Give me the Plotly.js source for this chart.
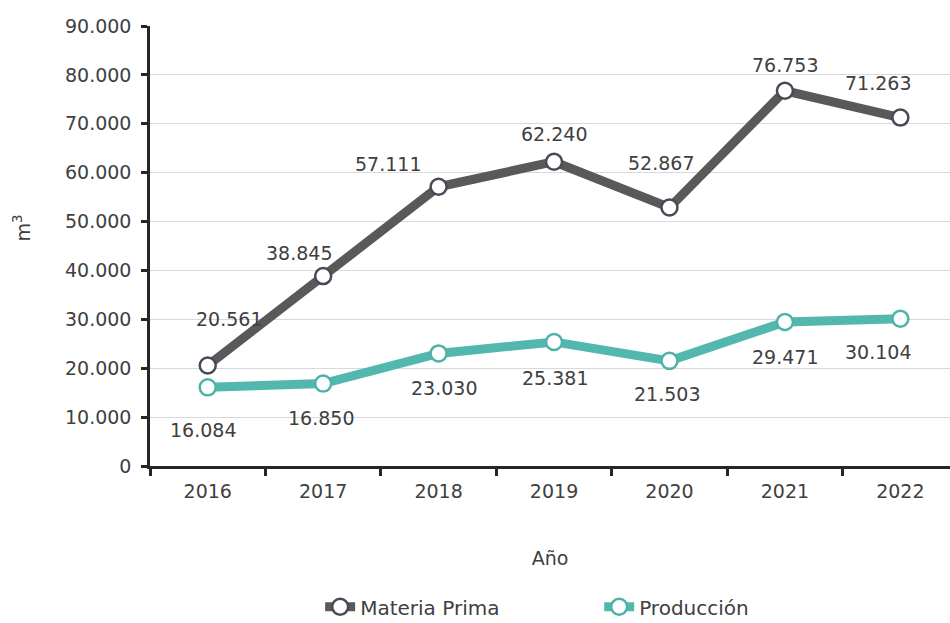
<!DOCTYPE html>
<html><head><meta charset="utf-8">
<script src="https://cdn.plot.ly/plotly-3.0.1.min.js"></script>
<style>body{margin:0}#c{width:950px;height:623px}</style>
</head><body><div id="c"></div>
<script>
const years = ['2016','2017','2018','2019','2020','2021','2022'];
const materiaPrima = [20561, 38845, 57111, 62240, 52867, 76753, 71263];
const produccion = [16084, 16850, 23030, 25381, 21503, 29471, 30104];
const seriesNames = ['Materia Prima', 'Producción'];
const yTicks = [0,10000,20000,30000,40000,50000,60000,70000,80000,90000];

// label pixel offsets (style only)
const mpShift = [[21,46],[-24,23],[-51,23],[0,28],[-8,45],[0,26],[-22,35]];
const prShift = [[-5,-43],[-2,-34],[5,-35],[1,-36],[-2,-33],[0,-35],[-22,-33]];

const fmt = n => String(n).replace(/\B(?=(\d{3})+(?!\d))/g, '.');
const FONT = 'DejaVu Sans, sans-serif';
const txtColor = '#404040';
const FS = 19;

const gray = '#595959', teal = '#52b8ae';
const traces = [
  {x: years, y: materiaPrima, name: seriesNames[0], type:'scatter', mode:'lines+markers',
   line:{color:gray, width:9}, marker:{size:16, color:'#ffffff', line:{color:'#474a57', width:2.5}}, cliponaxis:false},
  {x: years, y: produccion, name: seriesNames[1], type:'scatter', mode:'lines+markers',
   line:{color:teal, width:9}, marker:{size:16, color:'#ffffff', line:{color:'#4db3a8', width:2.5}}, cliponaxis:false}
];

const ann = [];
years.forEach((yr,i)=>{
  ann.push({x:i, y:materiaPrima[i], xref:'x', yref:'y', text:fmt(materiaPrima[i]), showarrow:false,
    xshift:mpShift[i][0], yshift:mpShift[i][1], font:{family:FONT,size:FS,color:txtColor}});
  ann.push({x:i, y:produccion[i], xref:'x', yref:'y', text:fmt(produccion[i]), showarrow:false,
    xshift:prShift[i][0], yshift:prShift[i][1], font:{family:FONT,size:FS,color:txtColor}});
});
ann.push({xref:'paper', yref:'paper', x:-0.16, xanchor:'center', y:0.54, yanchor:'middle', text:'m<sup>3</sup>', textangle:-90, showarrow:false,
  font:{family:FONT,size:FS,color:txtColor}});

const layout = {
  width:950, height:623,
  margin:{l:150, r:0, t:26, b:157},
  paper_bgcolor:'#ffffff', plot_bgcolor:'#ffffff',
  separators:',.',
  font:{family:FONT, size:FS, color:txtColor},
  showlegend:true,
  legend:{orientation:'h', x:0.337, xref:'container', xanchor:'left', y:0.026, yref:'container', yanchor:'middle',
    font:{family:FONT,size:20,color:txtColor}, tracegroupgap:0, entrywidth:234},
  xaxis:{type:'category', range:[-0.5, 6.43], showline:true, linecolor:'#262626', linewidth:2.5,
    ticks:'outside', tickson:'boundaries', ticklen:7, tickwidth:2.5, tickcolor:'#262626',
    showgrid:false, zeroline:false, tickfont:{family:FONT,size:FS,color:txtColor}, ticklabelstandoff:6,
    automargin:false,
    title:{text:'Año', standoff:52, font:{family:FONT,size:FS,color:txtColor}}},
  yaxis:{range:[0,90000], tickvals:yTicks, ticktext:yTicks.map(fmt), showline:true, linecolor:'#262626', linewidth:2.5,
    ticks:'outside', ticklen:6, tickwidth:2.5, tickcolor:'#262626', ticklabelstandoff:6, automargin:false,
    showgrid:true, gridcolor:'#d9d9d9', gridwidth:1.2, zeroline:false,
    tickfont:{family:FONT,size:FS,color:txtColor}},
  annotations: ann
};
Plotly.newPlot('c', traces, layout, {displayModeBar:false});
</script>
</body></html>
